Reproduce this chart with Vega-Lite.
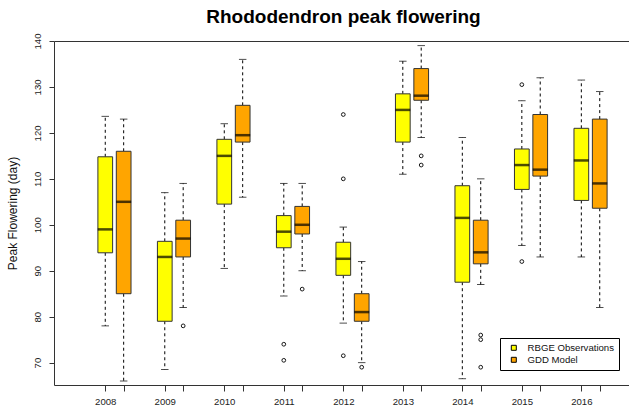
{
  "$schema": "https://vega.github.io/schema/vega-lite/v6.json",
  "width": 575,
  "height": 344,
  "autosize": {"type": "none"},
  "padding": {"left": 54, "top": 41, "right": 0, "bottom": 23},
  "background": "white",
  "config": {
    "font": "Liberation Sans",
    "view": {"stroke": null},
    "axis": {"grid": false, "labelColor": "#222", "domainColor": "#333", "tickColor": "#333", "labelFont": "Liberation Sans", "titleFont": "Liberation Sans"},
    "axisY": {"values": [70, 80, 90, 100, 110, 120, 130, 140], "titleFontSize": 12, "titleFontWeight": "normal", "titleColor": "#111", "titleX": -42, "titleY": 172, "titleAngle": -90, "titleAlign": "center", "titleBaseline": "middle", "labelAngle": -90, "labelAlign": "center", "labelBaseline": "alphabetic", "labelPadding": 9, "labelFontSize": 9.6, "tickSize": 5, "domain": true}
  },
  "title": {"text": "Rhododendron peak flowering", "fontSize": 19, "fontWeight": "bold", "font": "Liberation Sans", "anchor": "middle", "frame": "group", "offset": 17, "baseline": "alphabetic", "dx": 2, "dy": 26, "color": "#000"},
  "datasets": {
    "boxes": [
      {"year": "2008", "series": "RBGE Observations", "min": 78, "q1": 93.9, "median": 99, "q3": 114.8, "max": 123.6},
      {"year": "2008", "series": "GDD Model", "min": 66, "q1": 85, "median": 105, "q3": 116, "max": 123},
      {"year": "2009", "series": "RBGE Observations", "min": 68.5, "q1": 79, "median": 93, "q3": 96.4, "max": 107},
      {"year": "2009", "series": "GDD Model", "min": 82, "q1": 93, "median": 97, "q3": 101, "max": 109},
      {"year": "2010", "series": "RBGE Observations", "min": 90.5, "q1": 104.5, "median": 115, "q3": 118.6, "max": 122},
      {"year": "2010", "series": "GDD Model", "min": 106, "q1": 118, "median": 119.5, "q3": 126, "max": 136},
      {"year": "2011", "series": "RBGE Observations", "min": 84.5, "q1": 95, "median": 98.5, "q3": 102, "max": 109},
      {"year": "2011", "series": "GDD Model", "min": 90, "q1": 98, "median": 100, "q3": 104, "max": 109},
      {"year": "2012", "series": "RBGE Observations", "min": 78.6, "q1": 89, "median": 92.6, "q3": 96.2, "max": 99.5},
      {"year": "2012", "series": "GDD Model", "min": 70, "q1": 79, "median": 81, "q3": 85, "max": 92},
      {"year": "2013", "series": "RBGE Observations", "min": 111, "q1": 118, "median": 125, "q3": 128.5, "max": 135.6},
      {"year": "2013", "series": "GDD Model", "min": 119, "q1": 127.1, "median": 128.1, "q3": 134, "max": 139},
      {"year": "2014", "series": "RBGE Observations", "min": 66.5, "q1": 87.5, "median": 101.5, "q3": 108.5, "max": 119},
      {"year": "2014", "series": "GDD Model", "min": 87, "q1": 91.5, "median": 94, "q3": 101, "max": 110},
      {"year": "2015", "series": "RBGE Observations", "min": 95.5, "q1": 107.7, "median": 113, "q3": 116.5, "max": 127},
      {"year": "2015", "series": "GDD Model", "min": 93, "q1": 110.6, "median": 112, "q3": 124, "max": 132},
      {"year": "2016", "series": "RBGE Observations", "min": 93, "q1": 105.3, "median": 114, "q3": 121, "max": 131.5},
      {"year": "2016", "series": "GDD Model", "min": 82, "q1": 103.6, "median": 109, "q3": 123, "max": 129}
    ],
    "outliers": [
      {"year": "2009", "series": "GDD Model", "value": 78},
      {"year": "2011", "series": "RBGE Observations", "value": 74},
      {"year": "2011", "series": "RBGE Observations", "value": 70.5},
      {"year": "2011", "series": "GDD Model", "value": 86},
      {"year": "2012", "series": "RBGE Observations", "value": 124},
      {"year": "2012", "series": "RBGE Observations", "value": 110},
      {"year": "2012", "series": "RBGE Observations", "value": 71.5},
      {"year": "2012", "series": "GDD Model", "value": 69},
      {"year": "2013", "series": "GDD Model", "value": 115},
      {"year": "2013", "series": "GDD Model", "value": 113},
      {"year": "2014", "series": "GDD Model", "value": 76},
      {"year": "2014", "series": "GDD Model", "value": 75},
      {"year": "2014", "series": "GDD Model", "value": 69},
      {"year": "2015", "series": "RBGE Observations", "value": 130.5},
      {"year": "2015", "series": "RBGE Observations", "value": 92}
    ]
  },
  "data": {"name": "boxes"},
  "resolve": {"axis": {"x": "independent"}},
  "layer": [
    {
      "mark": {"type": "rule", "color": "#000", "strokeWidth": 1, "strokeDash": [3, 3]},
      "encoding": {
        "x": {"field": "year", "type": "nominal", "sort": null,
          "scale": {"type": "band", "range": [0, 597], "paddingInner": 0, "paddingOuter": 0.516},
          "axis": {"orient": "bottom", "title": null, "labelAngle": 0, "tickSize": 6, "tickOffset": -9.2, "labelOffset": 0, "labelPadding": 5, "labelFontSize": 9.6, "domain": true, "domainColor": "#333", "labelBaseline": "top"}},
        "xOffset": {"field": "series", "type": "nominal", "sort": ["RBGE Observations", "GDD Model"],
          "scale": {"domain": ["RBGE Observations", "GDD Model"], "paddingInner": 0.2, "paddingOuter": 0.717}},
        "y": {"field": "q1", "type": "quantitative", "title": "Peak Flowering (day)",
          "scale": {"domain": [65.13, 140], "nice": false, "zero": false}},
        "y2": {"field": "min"}
      }
    },
    {
      "mark": {"type": "rule", "color": "#000", "strokeWidth": 1, "strokeDash": [3, 3]},
      "encoding": {
        "x": {"field": "year", "type": "nominal", "sort": null,
          "axis": {"orient": "bottom", "title": null, "labels": false, "tickSize": 6, "tickOffset": 9.2, "domain": false}},
        "xOffset": {"field": "series", "type": "nominal", "sort": ["RBGE Observations", "GDD Model"]},
        "y": {"field": "q3", "type": "quantitative", "title": "Peak Flowering (day)"},
        "y2": {"field": "max"}
      }
    },
    {
      "mark": {"type": "tick", "color": "#000", "thickness": 1, "size": 7.5},
      "encoding": {
        "x": {"field": "year", "type": "nominal", "sort": null,
          "axis": {"orient": "top", "title": null, "labels": false, "ticks": false, "domain": true, "domainColor": "#333"}},
        "xOffset": {"field": "series", "type": "nominal", "sort": ["RBGE Observations", "GDD Model"]},
        "y": {"field": "min", "type": "quantitative", "title": "Peak Flowering (day)"}
      }
    },
    {
      "mark": {"type": "tick", "color": "#000", "thickness": 1, "size": 7.5},
      "encoding": {
        "x": {"field": "year", "type": "nominal", "sort": null, "axis": null},
        "xOffset": {"field": "series", "type": "nominal", "sort": ["RBGE Observations", "GDD Model"]},
        "y": {"field": "max", "type": "quantitative", "title": "Peak Flowering (day)"}
      }
    },
    {
      "mark": {"type": "bar", "stroke": "#333", "strokeWidth": 1, "cornerRadius": 0},
      "encoding": {
        "x": {"field": "year", "type": "nominal", "sort": null, "axis": null},
        "xOffset": {"field": "series", "type": "nominal", "sort": ["RBGE Observations", "GDD Model"]},
        "y": {"field": "q1", "type": "quantitative", "title": "Peak Flowering (day)"},
        "y2": {"field": "q3"},
        "fill": {"field": "series", "type": "nominal",
          "scale": {"domain": ["RBGE Observations", "GDD Model"], "range": ["#FFFF00", "#FFA500"]},
          "legend": {"orient": "none", "legendX": 446, "legendY": 297, "title": null, "strokeColor": "#000", "fillColor": "white", "padding": 5, "symbolType": "square", "symbolSize": 25, "symbolStrokeColor": "#000", "symbolStrokeWidth": 1, "labelFontSize": 9.6, "labelFont": "Liberation Sans", "labelColor": "#111", "labelOffset": 9, "symbolOffset": 4, "rowPadding": 1, "cornerRadius": 0}}
      }
    },
    {
      "mark": {"type": "tick", "color": "#000", "thickness": 2.5, "size": 15},
      "encoding": {
        "x": {"field": "year", "type": "nominal", "sort": null, "axis": null},
        "xOffset": {"field": "series", "type": "nominal", "sort": ["RBGE Observations", "GDD Model"]},
        "y": {"field": "median", "type": "quantitative", "title": "Peak Flowering (day)"}
      }
    },
    {
      "data": {"name": "outliers"},
      "mark": {"type": "point", "shape": "circle", "filled": false, "stroke": "#000", "strokeWidth": 0.9, "size": 14, "opacity": 1},
      "encoding": {
        "x": {"field": "year", "type": "nominal", "sort": null, "axis": null},
        "xOffset": {"field": "series", "type": "nominal", "sort": ["RBGE Observations", "GDD Model"]},
        "y": {"field": "value", "type": "quantitative", "title": "Peak Flowering (day)"}
      }
    }
  ]
}
